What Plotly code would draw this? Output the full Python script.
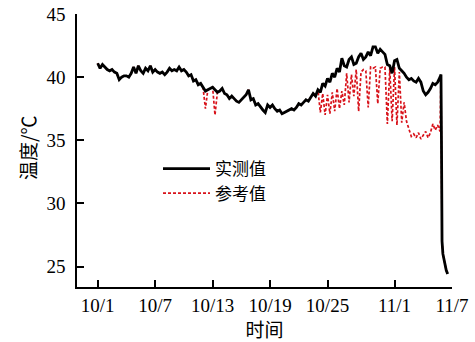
import numpy as np
import pandas as pd
import plotly.graph_objects as go

# ---- data ----
start_date = "2021-10-01"
grid_step_days = 0.25
# measured ("实测值"), 4 samples per day from 10/1 to 11/5 18:00
measured_grid = [
    41.1, 40.7, 41.0, 40.8,  40.6, 40.5, 40.6, 40.4,  40.3, 39.8, 40.0, 40.1,
    40.1, 40.0, 40.3, 40.8,  40.3, 40.9, 40.5, 40.3,  40.7, 40.5, 40.9, 40.4,
    40.6, 40.4, 40.3, 40.4,  40.2, 40.4, 40.7, 40.5,  40.6, 40.5, 40.8, 40.5,
    40.6, 40.4, 40.1, 40.2,  39.7, 39.8, 39.4, 39.5,  39.2, 38.9, 39.0, 39.1,
    39.2, 39.0, 38.8, 38.9,  39.1, 38.7, 38.6, 38.3,  38.5, 38.3, 38.1, 38.0,
    38.2, 38.4, 38.6, 39.0,  38.2, 38.3, 37.8, 37.9,  37.6, 37.4, 37.2, 37.8,
    37.6, 37.8, 37.5, 37.3,  37.4, 37.1, 37.2, 37.3,  37.4, 37.5, 37.4, 37.6,
    37.9, 37.8, 38.0, 38.2,  38.1, 38.4, 38.7, 38.5,  39.0, 38.8, 39.5, 39.3,
    39.9, 39.6, 40.3, 40.0,  40.7, 40.4, 41.5, 40.9,  40.8, 41.4, 41.6, 41.0,
    41.1, 41.6, 41.9, 41.4,  41.6, 42.0, 41.7, 42.4,  42.4, 41.9, 42.2, 42.0,
    41.8, 41.0, 40.9, 40.3,  41.3, 41.4, 40.7, 40.5,  40.3, 40.0, 39.8, 39.9,
    39.7, 39.6, 39.9, 39.6,  38.9, 38.6, 38.8, 39.1,  39.5, 39.4, 39.6, 40.0,
]
# reference ("参考值") on the same grid
reference_grid = [
    41.1, 40.7, 41.0, 40.8,  40.6, 40.5, 40.6, 40.4,  40.3, 39.8, 40.0, 40.1,
    40.1, 40.0, 40.3, 40.8,  40.3, 40.9, 40.5, 40.3,  40.7, 40.5, 40.9, 40.4,
    40.6, 40.4, 40.3, 40.4,  40.2, 40.4, 40.7, 40.5,  40.6, 40.5, 40.8, 40.5,
    40.6, 40.4, 40.1, 40.2,  39.7, 39.8, 39.4, 39.5,  39.2, 37.5, 39.0, 39.1,
    39.2, 37.0, 38.8, 38.9,  39.1, 38.7, 38.6, 38.3,  38.5, 38.3, 38.1, 38.0,
    38.2, 38.4, 38.6, 39.0,  38.2, 38.3, 37.8, 37.9,  37.6, 37.4, 37.2, 37.8,
    37.6, 37.8, 37.5, 37.3,  37.4, 37.1, 37.2, 37.3,  37.4, 37.5, 37.4, 37.6,
    37.9, 37.8, 38.0, 38.2,  38.1, 38.4, 38.7, 38.5,  39.0, 37.2, 38.7, 37.0,
    38.6, 37.1, 38.8, 37.3,  39.1, 37.5, 38.9, 37.8,  40.3, 38.0, 40.2, 38.5,
    40.6, 37.3, 40.4, 40.6,  40.5, 37.6, 40.8, 40.7,  40.8, 37.9, 40.7, 40.8,
    40.8, 36.3, 40.7, 36.5,  40.8, 36.2, 40.4, 36.4,  38.0, 36.5, 35.8, 35.3,
    35.5, 35.2, 35.6, 35.1,  35.4, 35.7, 35.2, 35.6,  36.3, 35.8, 36.2, 35.7,
]
# final sharp drop (day offsets and values), shared by both series
tail_days = [35.85, 35.9, 35.93, 35.96, 36.05, 36.2, 36.4, 36.55]
measured_tail = [40.2, 35.0, 30.0, 27.0, 26.0, 25.3, 24.7, 24.4]
reference_tail = [40.2, 35.0, 30.0, 27.0, 26.0, 25.3, 24.7, 24.4]

tick_dates = ["2021-10-01", "2021-10-07", "2021-10-13", "2021-10-19",
              "2021-10-25", "2021-11-01", "2021-11-07"]
tick_labels = ["10/1", "10/7", "10/13", "10/19", "10/25", "11/1", "11/7"]
y_ticks = [25, 30, 35, 40, 45]

# ---- build x (time) ----
grid_days = np.arange(len(measured_grid)) * grid_step_days
all_days = np.concatenate([grid_days, tail_days])
t0 = pd.Timestamp(start_date)
times = t0 + pd.to_timedelta(all_days, unit="D")
measured = list(measured_grid) + measured_tail
reference = list(reference_grid) + reference_tail

cn = "Noto Sans CJK SC"
serif = "Liberation Serif"

fig = go.Figure()
fig.add_trace(go.Scatter(
    x=times, y=reference, mode="lines", name="参考值",
    line=dict(color="#d8121a", width=1.7, dash="3px,2px"), legend="legend2"))
fig.add_trace(go.Scatter(
    x=times, y=measured, mode="lines", name="实测值",
    line=dict(color="black", width=2.8), legend="legend"))

x_start = t0 - pd.Timedelta(days=2.16)
leg_common = dict(x=0.216, xanchor="left", yanchor="middle",
                  bgcolor="rgba(0,0,0,0)", itemwidth=47,
                  font=dict(family=cn, size=17, color="black"))
fig.update_layout(
    width=475, height=342,
    margin=dict(l=77, r=23, t=14, b=55, autoexpand=False),
    plot_bgcolor="white", paper_bgcolor="white",
    showlegend=True,
    legend=dict(y=0.432, **leg_common),
    legend2=dict(y=0.342, **leg_common),
    xaxis=dict(
        type="date", range=[x_start, pd.Timestamp("2021-11-07")],
        tickvals=pd.to_datetime(tick_dates), ticktext=tick_labels,
        ticks="inside", ticklen=7, tickwidth=1.5, tickcolor="black",
        showline=True, linecolor="black", linewidth=1.5, showgrid=False,
        zeroline=False, automargin=False,
        tickfont=dict(family=serif, size=19, color="black"),
        title=dict(text="时间", font=dict(family=cn, size=19, color="black")),
    ),
    yaxis=dict(
        range=[23.38, 45], tickvals=y_ticks,
        ticks="inside", ticklen=7, tickwidth=1.5, tickcolor="black",
        showline=True, linecolor="black", linewidth=1.5, showgrid=False,
        zeroline=False, ticklabelstandoff=6, automargin=False,
        tickfont=dict(family=serif, size=19, color="black"),
    ),
    annotations=[dict(
        text="温度/℃", xref="paper", yref="paper", x=-0.13, y=0.51,
        xanchor="center", yanchor="middle", textangle=-90, showarrow=False,
        font=dict(family=cn, size=19, color="black"))],
)

fig.write_html("out.html")
